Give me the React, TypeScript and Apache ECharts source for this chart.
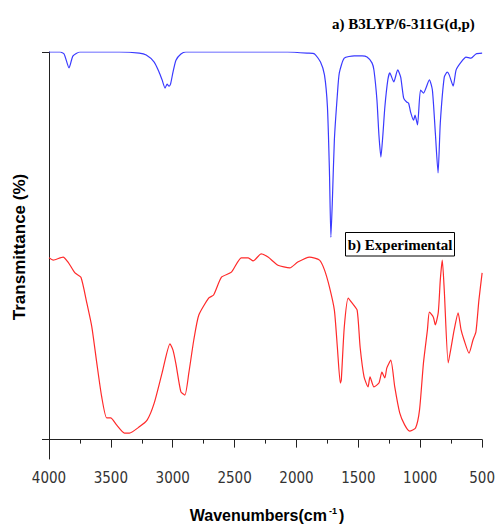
import React, { useEffect, useRef } from "react";
import * as echarts from "echarts";

// Calculated spectrum a) B3LYP/6-311G(d,p): [wavenumber, transmittance]
const calcWavenumbers = [4000, 3910, 3878, 3838, 3806, 3750, 3430, 3270, 3214, 3150, 3110, 3086, 3062, 3046, 3030, 3018, 2998, 2974, 2934, 2894, 2070, 1910, 1854, 1806, 1774, 1750, 1734, 1722, 1710, 1694, 1670, 1654, 1614, 1534, 1470, 1430, 1390, 1374, 1350, 1334, 1318, 1302, 1286, 1262, 1246, 1214, 1182, 1158, 1134, 1110, 1094, 1078, 1054, 1042, 1022, 998, 974, 926, 902, 878, 856, 838, 806, 782, 766, 734, 710, 670, 630, 590, 550, 500];
const calcValues = [100, 100, 99.5, 95.9, 99.0, 100, 100, 99.7, 99.2, 97.4, 94.8, 92.8, 90.7, 91.7, 91.2, 91.7, 94.8, 97.9, 99.5, 100, 100, 99.7, 99.5, 97.4, 94.1, 85.8, 69.5, 52.2, 61.8, 77.3, 88.9, 94.6, 98.4, 99.0, 99.0, 98.7, 97.2, 95.3, 87.6, 78.6, 72.9, 78.6, 85.8, 92.8, 94.6, 92.3, 95.4, 93.5, 88.1, 87.1, 86.8, 84.5, 82.4, 83.7, 81.2, 90.2, 89.4, 92.8, 90.2, 79.1, 68.8, 81.7, 93.5, 94.8, 94.1, 91.2, 95.4, 97.4, 98.7, 98.4, 99.5, 99.7];

// Experimental spectrum b)
const expWavenumbers = [4000, 3966, 3886, 3846, 3790, 3742, 3694, 3654, 3614, 3574, 3534, 3502, 3454, 3390, 3350, 3270, 3206, 3150, 3086, 3022, 2998, 2974, 2934, 2902, 2870, 2830, 2790, 2710, 2670, 2606, 2526, 2446, 2390, 2350, 2286, 2230, 2150, 2054, 1990, 1894, 1814, 1774, 1734, 1694, 1670, 1646, 1638, 1614, 1582, 1550, 1510, 1486, 1454, 1422, 1406, 1374, 1334, 1310, 1286, 1270, 1238, 1206, 1166, 1126, 1086, 1038, 1006, 974, 942, 926, 894, 878, 854, 838, 822, 806, 774, 750, 726, 694, 670, 646, 606, 574, 550, 526, 500];
const expValues = [46.9, 46.3, 47.1, 45.8, 43.0, 41.9, 35.2, 29.1, 19.8, 11.0, 5.6, 5.6, 3.8, 1.7, 1.7, 3.3, 5.1, 9.4, 17.2, 24.7, 23.1, 19.5, 12.3, 11.5, 17.2, 25.7, 32.1, 36.5, 37.3, 41.9, 43.2, 46.9, 46.9, 46.1, 47.9, 47.1, 45.0, 44.3, 45.8, 47.1, 46.3, 43.8, 39.4, 33.4, 23.9, 14.6, 15.4, 29.0, 36.5, 35.2, 33.4, 23.9, 16.2, 13.6, 16.2, 13.6, 14.6, 17.4, 15.9, 18.5, 20.5, 13.6, 6.9, 3.8, 2.2, 3.0, 7.6, 19.8, 28.3, 32.9, 31.6, 29.6, 32.9, 41.2, 46.3, 38.6, 19.8, 23.9, 28.3, 32.7, 28.3, 25.7, 22.3, 25.7, 27.8, 36.0, 43.0];

const xTicks = [4000, 3500, 3000, 2500, 2000, 1500, 1000, 500];
const yTicks = [0, 100];

const labelCalc = "a) B3LYP/6-311G(d,p)";
const labelExp = "b) Experimental";
const xTitle = "Wavenumbers(cm";
const yTitle = "Transmittance (%)";

export default function App() {
  const ref = useRef<HTMLDivElement>(null);
  useEffect(() => {
    if (!ref.current) return;
    const chart = echarts.init(ref.current, undefined, { renderer: "svg" });
    const calcData = calcWavenumbers.map((w, i) => [w, calcValues[i]]);
    const expData = expWavenumbers.map((w, i) => [w, expValues[i]]);
    chart.setOption({
      animation: false,
      backgroundColor: "#ffffff",
      grid: { left: 49, right: 12, top: 52, bottom: 66 },
      xAxis: {
        type: "value",
        inverse: true,
        min: 500,
        max: 4000,
        interval: 500,
        axisLine: { lineStyle: { color: "#222", width: 1 } },
        axisTick: { length: 8, lineStyle: { color: "#222" } },
        minorTick: { show: true, splitNumber: 2, length: 4, lineStyle: { color: "#222" } },
        splitLine: { show: false },
        axisLabel: {
          color: "#333",
          fontFamily: "'Liberation Sans Narrow', 'Arial Narrow', 'DejaVu Sans Condensed', sans-serif",
          fontSize: 15,
          margin: 11,
          formatter: (v: number) => (xTicks.includes(v) ? String(v) : ""),
        },
      },
      yAxis: {
        type: "value",
        min: -5,
        max: 100,
        axisLine: { show: true, lineStyle: { color: "#222", width: 1 } },
        axisTick: { show: true, length: 7, customValues: yTicks, lineStyle: { color: "#222" } },
        axisLabel: { show: false },
        splitLine: { show: false },
      },
      series: [
        {
          type: "line",
          data: calcData,
          showSymbol: false,
          smooth: 0.2,
          lineStyle: { color: "#3a3aff", width: 1.2 },
        },
        {
          type: "line",
          data: expData,
          showSymbol: false,
          smooth: 0.2,
          lineStyle: { color: "#ff2a2a", width: 1.2 },
        },
      ],
      graphic: [
        {
          type: "text",
          x: 332,
          y: 24,
          style: {
            text: labelCalc,
            font: "bold 15px 'Liberation Serif', 'Times New Roman', serif",
            fill: "#000",
            textAlign: "left",
            textVerticalAlign: "middle",
          },
        },
        {
          type: "rect",
          shape: { x: 345.5, y: 232.5, width: 109, height: 23.5 },
          style: { fill: "#fff", stroke: "#000", lineWidth: 1 },
        },
        {
          type: "text",
          x: 400,
          y: 244.5,
          style: {
            text: labelExp,
            font: "bold 15px 'Liberation Serif', 'Times New Roman', serif",
            fill: "#000",
            textAlign: "center",
            textVerticalAlign: "middle",
          },
        },
        {
          type: "text",
          x: 267,
          y: 515,
          style: {
            text: "{m|" + xTitle + "}{s|-1}{m|)}",
            textAlign: "center",
            textVerticalAlign: "middle",
            rich: {
              m: { font: "bold 16px 'Liberation Sans', Arial, sans-serif", fill: "#000", verticalAlign: "bottom" },
              s: { font: "bold 9px 'Liberation Sans', Arial, sans-serif", fill: "#000", verticalAlign: "top", padding: [0, 2, 8, 2] },
            },
          },
        },
        {
          type: "text",
          x: 19,
          y: 247,
          rotation: Math.PI / 2,
          style: {
            text: yTitle,
            font: "bold 17px 'Liberation Sans', Arial, sans-serif",
            fill: "#000",
            textAlign: "center",
            textVerticalAlign: "middle",
          },
        },
      ],
    });
    return () => chart.dispose();
  }, []);
  return (
    <div
      ref={ref}
      style={{ position: "absolute", left: 0, top: 0, width: 498, height: 525 }}
    />
  );
}
